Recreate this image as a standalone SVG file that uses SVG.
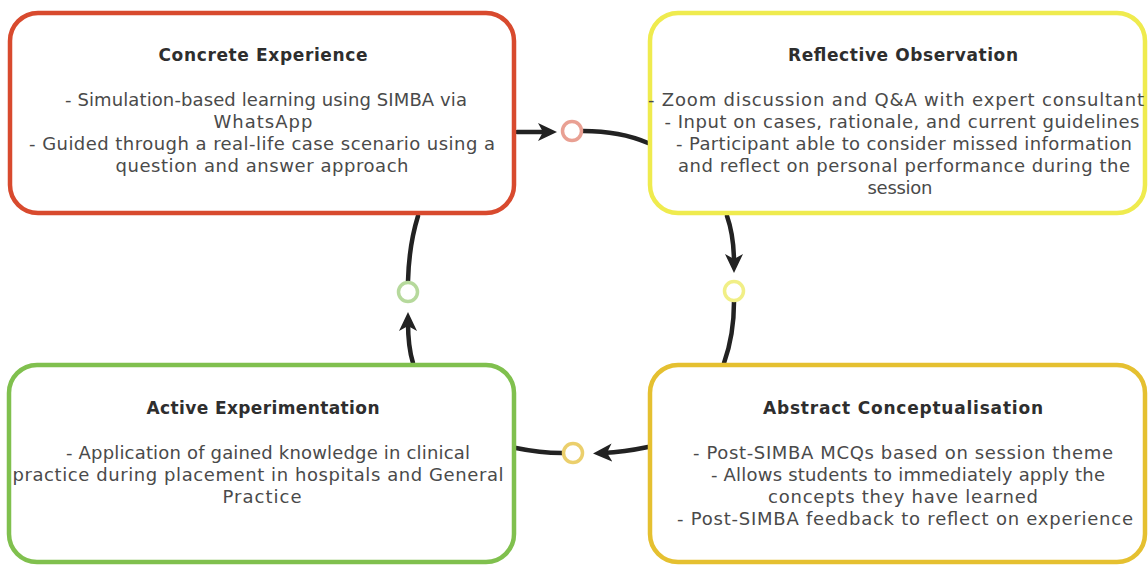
<svg xmlns="http://www.w3.org/2000/svg" width="1148" height="567" viewBox="0 0 1148 567">
<style>
  .box { fill: #ffffff; stroke-width: 4.5; }
  .title { font-family: "DejaVu Sans", sans-serif; font-weight: bold; font-size: 17px; fill: #2e2e2e; text-anchor: middle; }
  .body { font-family: "DejaVu Sans", sans-serif; font-size: 18px; fill: #4a4a4a; text-anchor: middle; }
  .conn { fill: none; stroke: #222222; stroke-width: 4.5; stroke-linecap: round; }
  .dot { fill: #ffffff; stroke-width: 3.5; }
</style>
<defs>
  <marker id="arrow" markerUnits="userSpaceOnUse" viewBox="0 0 20 20" markerWidth="20" markerHeight="20" refX="9" refY="10" orient="auto">
    <path d="M0,1 L19,10 L0,19 L5,10 z" fill="#222222"/>
  </marker>
</defs>
<rect width="1148" height="567" fill="#ffffff"/>

<g id="connectors">
  <path class="conn" d="M517,132 L547,132" marker-end="url(#arrow)"/>
  <path class="conn" d="M583,131 Q620,131 648,143"/>
  <path class="conn" d="M727,216 Q734,236 734,263" marker-end="url(#arrow)"/>
  <path class="conn" d="M734,302 Q734,335 724,363"/>
  <path class="conn" d="M648,447 Q624,452 603,453" marker-end="url(#arrow)"/>
  <path class="conn" d="M562,453 Q540,453 516,448"/>
  <path class="conn" d="M413,363 Q408,347 408,322" marker-end="url(#arrow)"/>
  <path class="conn" d="M408,281 Q409,245 418,216"/>
  <circle class="dot" cx="572" cy="131" r="9.5" stroke="#e9a093"/>
  <circle class="dot" cx="734" cy="291" r="9.5" stroke="#f1ef86"/>
  <circle class="dot" cx="573" cy="453" r="9.5" stroke="#ebcf6c"/>
  <circle class="dot" cx="408" cy="292" r="9.5" stroke="#b6d99c"/>
</g>

<g id="concrete-experience">
  <rect class="box" x="10" y="13" width="504" height="200" rx="28" stroke="#d84a2e"/>
  <text class="title" x="263" y="61" textLength="209">Concrete Experience</text>
  <text class="body" x="266" y="106" textLength="402">- Simulation-based learning using SIMBA via</text>
  <text class="body" x="263" y="128" textLength="99">WhatsApp</text>
  <text class="body" x="262" y="150" textLength="466">- Guided through a real-life case scenario using a</text>
  <text class="body" x="262" y="172" textLength="293">question and answer approach</text>
</g>

<g id="reflective-observation">
  <rect class="box" x="650" y="13" width="495" height="200" rx="28" stroke="#efeb4e"/>
  <text class="title" x="903" y="61" textLength="230">Reflective Observation</text>
  <text class="body" x="896" y="106" textLength="496">- Zoom discussion and Q&amp;A with expert consultant</text>
  <text class="body" x="902" y="128" textLength="475">- Input on cases, rationale, and current guidelines</text>
  <text class="body" x="904" y="150" textLength="456">- Participant able to consider missed information</text>
  <text class="body" x="904" y="172" textLength="452">and reflect on personal performance during the</text>
  <text class="body" x="900" y="194" textLength="65">session</text>
</g>

<g id="active-experimentation">
  <rect class="box" x="9" y="365" width="505" height="197" rx="28" stroke="#80c04e"/>
  <text class="title" x="263" y="414" textLength="233">Active Experimentation</text>
  <text class="body" x="268" y="459" textLength="404">- Application of gained knowledge in clinical</text>
  <text class="body" x="258" y="481" textLength="491">practice during placement in hospitals and General</text>
  <text class="body" x="262" y="503" textLength="79">Practice</text>
</g>

<g id="abstract-conceptualisation">
  <rect class="box" x="650" y="365" width="495" height="197" rx="28" stroke="#e5c030"/>
  <text class="title" x="903" y="414" textLength="280">Abstract Conceptualisation</text>
  <text class="body" x="903" y="459" textLength="420">- Post-SIMBA MCQs based on session theme</text>
  <text class="body" x="908" y="481" textLength="394">- Allows students to immediately apply the</text>
  <text class="body" x="903" y="503" textLength="270">concepts they have learned</text>
  <text class="body" x="905" y="525" textLength="456">- Post-SIMBA feedback to reflect on experience</text>
</g>
</svg>
